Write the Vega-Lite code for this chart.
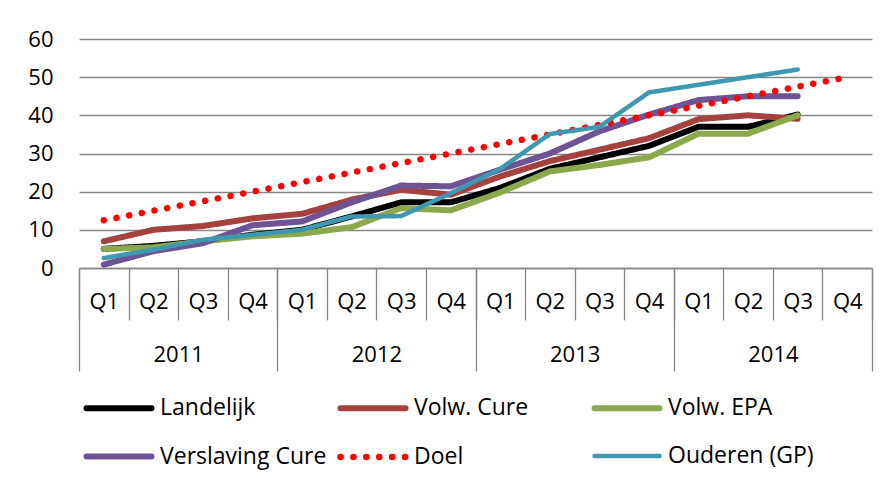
{
  "$schema": "https://vega.github.io/schema/vega-lite/v6.json",
  "width": 793,
  "height": 229,
  "autosize": {"type": "none"},
  "padding": {"left": 79, "top": 39, "right": 17, "bottom": 221},
  "background": "white",
  "config": {
    "view": {"stroke": null},
    "font": "Open Sans",
    "axis": {"labelFont": "Open Sans", "labelFontSize": 22, "labelColor": "#000000", "title": null, "domainColor": "#868686", "tickColor": "#868686", "gridColor": "#868686"}
  },
  "data": {
    "values": [
      {"t": 1, "s": "Landelijk", "v": 5}, {"t": 2, "s": "Landelijk", "v": 5.8}, {"t": 3, "s": "Landelijk", "v": 7}, {"t": 4, "s": "Landelijk", "v": 8.7},
      {"t": 5, "s": "Landelijk", "v": 10}, {"t": 6, "s": "Landelijk", "v": 13.5}, {"t": 7, "s": "Landelijk", "v": 17.2}, {"t": 8, "s": "Landelijk", "v": 17.2},
      {"t": 9, "s": "Landelijk", "v": 21}, {"t": 10, "s": "Landelijk", "v": 26}, {"t": 11, "s": "Landelijk", "v": 29}, {"t": 12, "s": "Landelijk", "v": 32},
      {"t": 13, "s": "Landelijk", "v": 37}, {"t": 14, "s": "Landelijk", "v": 37}, {"t": 15, "s": "Landelijk", "v": 40.2},
      {"t": 1, "s": "Volw. Cure", "v": 7}, {"t": 2, "s": "Volw. Cure", "v": 10}, {"t": 3, "s": "Volw. Cure", "v": 11}, {"t": 4, "s": "Volw. Cure", "v": 13},
      {"t": 5, "s": "Volw. Cure", "v": 14.2}, {"t": 6, "s": "Volw. Cure", "v": 17.9}, {"t": 7, "s": "Volw. Cure", "v": 20.5}, {"t": 8, "s": "Volw. Cure", "v": 19.2},
      {"t": 9, "s": "Volw. Cure", "v": 24}, {"t": 10, "s": "Volw. Cure", "v": 28}, {"t": 11, "s": "Volw. Cure", "v": 31}, {"t": 12, "s": "Volw. Cure", "v": 34},
      {"t": 13, "s": "Volw. Cure", "v": 39}, {"t": 14, "s": "Volw. Cure", "v": 40}, {"t": 15, "s": "Volw. Cure", "v": 39.1},
      {"t": 1, "s": "Volw. EPA", "v": 5}, {"t": 2, "s": "Volw. EPA", "v": 5.4}, {"t": 3, "s": "Volw. EPA", "v": 7}, {"t": 4, "s": "Volw. EPA", "v": 8.3},
      {"t": 5, "s": "Volw. EPA", "v": 9}, {"t": 6, "s": "Volw. EPA", "v": 10.7}, {"t": 7, "s": "Volw. EPA", "v": 15.7}, {"t": 8, "s": "Volw. EPA", "v": 15.1},
      {"t": 9, "s": "Volw. EPA", "v": 19.8}, {"t": 10, "s": "Volw. EPA", "v": 25.3}, {"t": 11, "s": "Volw. EPA", "v": 27}, {"t": 12, "s": "Volw. EPA", "v": 29},
      {"t": 13, "s": "Volw. EPA", "v": 35.2}, {"t": 14, "s": "Volw. EPA", "v": 35.2}, {"t": 15, "s": "Volw. EPA", "v": 40},
      {"t": 1, "s": "Verslaving Cure", "v": 0.9}, {"t": 2, "s": "Verslaving Cure", "v": 4.4}, {"t": 3, "s": "Verslaving Cure", "v": 6.5}, {"t": 4, "s": "Verslaving Cure", "v": 11.2},
      {"t": 5, "s": "Verslaving Cure", "v": 12.2}, {"t": 6, "s": "Verslaving Cure", "v": 17.2}, {"t": 7, "s": "Verslaving Cure", "v": 21.6}, {"t": 8, "s": "Verslaving Cure", "v": 21.4},
      {"t": 9, "s": "Verslaving Cure", "v": 25.8}, {"t": 10, "s": "Verslaving Cure", "v": 30}, {"t": 11, "s": "Verslaving Cure", "v": 35.8}, {"t": 12, "s": "Verslaving Cure", "v": 40.2},
      {"t": 13, "s": "Verslaving Cure", "v": 44}, {"t": 14, "s": "Verslaving Cure", "v": 45}, {"t": 15, "s": "Verslaving Cure", "v": 45},
      {"t": 1, "s": "Doel", "v": 12.5}, {"t": 2, "s": "Doel", "v": 15}, {"t": 3, "s": "Doel", "v": 17.5}, {"t": 4, "s": "Doel", "v": 20},
      {"t": 5, "s": "Doel", "v": 22.5}, {"t": 6, "s": "Doel", "v": 25}, {"t": 7, "s": "Doel", "v": 27.5}, {"t": 8, "s": "Doel", "v": 30},
      {"t": 9, "s": "Doel", "v": 32.5}, {"t": 10, "s": "Doel", "v": 35}, {"t": 11, "s": "Doel", "v": 37.5}, {"t": 12, "s": "Doel", "v": 40},
      {"t": 13, "s": "Doel", "v": 42.5}, {"t": 14, "s": "Doel", "v": 45}, {"t": 15, "s": "Doel", "v": 47.5}, {"t": 16, "s": "Doel", "v": 50},
      {"t": 1, "s": "Ouderen (GP)", "v": 2.6}, {"t": 2, "s": "Ouderen (GP)", "v": 4.8}, {"t": 3, "s": "Ouderen (GP)", "v": 7.4}, {"t": 4, "s": "Ouderen (GP)", "v": 8.7},
      {"t": 5, "s": "Ouderen (GP)", "v": 10}, {"t": 6, "s": "Ouderen (GP)", "v": 13.5}, {"t": 7, "s": "Ouderen (GP)", "v": 13.6}, {"t": 8, "s": "Ouderen (GP)", "v": 19.6},
      {"t": 9, "s": "Ouderen (GP)", "v": 26}, {"t": 10, "s": "Ouderen (GP)", "v": 35.1}, {"t": 11, "s": "Ouderen (GP)", "v": 37}, {"t": 12, "s": "Ouderen (GP)", "v": 46},
      {"t": 13, "s": "Ouderen (GP)", "v": 48}, {"t": 14, "s": "Ouderen (GP)", "v": 50}, {"t": 15, "s": "Ouderen (GP)", "v": 52}
    ]
  },
  "resolve": {"axis": {"x": "independent"}},
  "layer": [
    {
      "mark": {"type": "point", "opacity": 0},
      "encoding": {
        "x": {"field": "t", "type": "quantitative", "scale": {"domain": [0.5, 16.5], "nice": false, "zero": false},
          "axis": {"orient": "bottom", "values": [0.5,1.5,2.5,3.5,4.5,5.5,6.5,7.5,8.5,9.5,10.5,11.5,12.5,13.5,14.5,15.5,16.5], "labels": false, "domain": false, "grid": false, "ticks": true, "tickSize": 52, "tickWidth": 1.3}}
      }
    },
    {
      "mark": {"type": "point", "opacity": 0},
      "encoding": {
        "x": {"field": "t", "type": "quantitative",
          "axis": {"orient": "bottom", "values": [0.5, 4.5, 8.5, 12.5, 16.5], "labels": false, "domain": false, "grid": false, "ticks": true, "tickSize": 103, "tickWidth": 1.3}}
      }
    },
    {
      "mark": {"type": "point", "opacity": 0},
      "encoding": {
        "x": {"field": "t", "type": "quantitative",
          "axis": {"orient": "bottom", "values": [2.5, 6.5, 10.5, 14.5], "labelExpr": "datum.value == 2.5 ? '2011' : datum.value == 6.5 ? '2012' : datum.value == 10.5 ? '2013' : '2014'", "domain": false, "grid": false, "ticks": false, "labelPadding": 86, "labelBaseline": "middle", "labelOverlap": false, "labelFlush": false, "labelBound": false}}
      }
    },
    {
      "mark": {"type": "line", "strokeCap": "round", "strokeJoin": "round"},
      "encoding": {
        "x": {"field": "t", "type": "quantitative",
          "axis": {"orient": "bottom", "values": [1,2,3,4,5,6,7,8,9,10,11,12,13,14,15,16], "labelExpr": "'Q' + ((datum.value - 1) % 4 + 1)", "domain": true, "domainWidth": 1.5, "grid": false, "ticks": false, "labelPadding": 33, "labelBaseline": "middle", "labelOverlap": false, "labelFlush": false, "labelBound": false}},
        "y": {"field": "v", "type": "quantitative", "scale": {"domain": [0, 60], "nice": false},
          "axis": {"values": [0, 10, 20, 30, 40, 50, 60], "grid": true, "gridWidth": 1.3, "domain": false, "ticks": false, "labelPadding": 26}},
        "color": {"field": "s", "type": "nominal",
          "scale": {"domain": ["Landelijk", "Volw. Cure", "Volw. EPA", "Verslaving Cure", "Doel", "Ouderen (GP)"], "range": ["#000000", "#A5423F", "#8BA84C", "#6E5494", "#FF0000", "#3E98B0"]},
          "legend": {"orient": "none", "legendX": 4, "legendY": 333, "columns": 3, "direction": "horizontal", "title": null, "symbolType": "stroke", "symbolSize": 4225, "symbolStrokeWidth": 6, "labelFont": "Open Sans", "labelFontSize": 23, "labelColor": "#000000", "labelOffset": 5, "columnPadding": 0, "rowPadding": 0, "gridAlign": "all", "padding": 0, "labelLimit": 0,
            "encode": {"symbols": {"update": {"strokeCap": {"value": "round"}}}}}},
        "strokeDash": {"field": "s", "type": "nominal",
          "scale": {"domain": ["Landelijk", "Volw. Cure", "Volw. EPA", "Verslaving Cure", "Doel", "Ouderen (GP)"], "range": [[1, 0], [1, 0], [1, 0], [1, 0], [0.1, 12.8], [1, 0]]}},
        "strokeWidth": {"field": "s", "type": "nominal", "legend": null,
          "scale": {"type": "ordinal", "domain": ["Landelijk", "Volw. Cure", "Volw. EPA", "Verslaving Cure", "Doel", "Ouderen (GP)"], "range": [6, 6, 6, 6, 6.5, 4.5]}}
      }
    }
  ]
}
